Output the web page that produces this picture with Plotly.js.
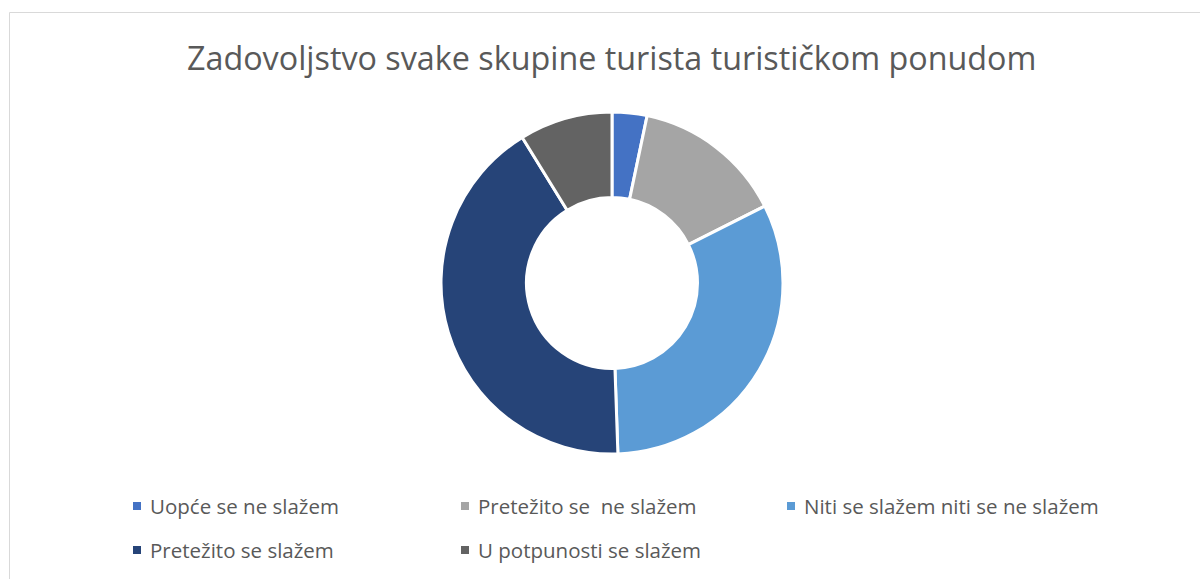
<!DOCTYPE html>
<html>
<head>
<meta charset="utf-8">
<script src="https://cdn.plot.ly/plotly-3.0.1.min.js"></script>
<style>html,body{margin:0;padding:0;background:#fff;}#chart{width:1200px;height:579px;}</style>
</head>
<body>
<div id="chart"></div>
<script>
const chartTitle = "Zadovoljstvo svake skupine turista turističkom ponudom";
const categories = [
  "Uopće se ne slažem",
  "Pretežito se  ne slažem",
  "Niti se slažem niti se ne slažem",
  "Pretežito se slažem",
  "U potpunosti se slažem"
];
const values = [3, 13, 29, 38, 8];
const colors = ["#4472C4", "#A5A5A5", "#5B9BD5", "#264478", "#636363"];

const W = 1200, H = 579;
const FONT = "Open Sans, Noto Sans, sans-serif";
const TXT = "#595959";

// legend layout (pixels)
const legCols = [133, 461, 787];
const legRows = [506, 550];

const annotations = [{
  text: chartTitle, xref: "paper", yref: "paper",
  x: 611 / W, y: 1 - 57 / H, xanchor: "center", yanchor: "middle",
  showarrow: false, font: {family: FONT, size: 32.3, color: TXT}
}];
const shapes = [
  {type: "line", xref: "paper", yref: "paper", x0: 9.5 / W, x1: 1, y0: 1 - 12.5 / H, y1: 1 - 12.5 / H, line: {color: "#D9D9D9", width: 1}},
  {type: "line", xref: "paper", yref: "paper", x0: 9.5 / W, x1: 9.5 / W, y0: 1 - 12.5 / H, y1: 0, line: {color: "#D9D9D9", width: 1}}
];
categories.forEach((c, i) => {
  const px = legCols[i % 3], py = legRows[Math.floor(i / 3)];
  shapes.push({type: "rect", xref: "paper", yref: "paper",
    x0: px / W, x1: (px + 8) / W, y0: 1 - (py - 4) / H, y1: 1 - (py + 4) / H,
    fillcolor: colors[i], line: {width: 0}});
  annotations.push({text: c, xref: "paper", yref: "paper",
    x: (px + 15) / W, y: 1 - py / H, xanchor: "left", yanchor: "middle",
    showarrow: false, font: {family: FONT, size: 20.5, color: TXT}});
});

const cx = 612, cy = 283, R = 171;
const data = [{
  type: "pie",
  labels: categories,
  values: values,
  hole: 0.5,
  sort: false,
  direction: "clockwise",
  rotation: 0,
  textinfo: "none",
  hoverinfo: "label+value+percent",
  marker: {colors: colors, line: {color: "#FFFFFF", width: 3}},
  domain: {x: [(cx - R) / W, (cx + R) / W], y: [1 - (cy + R) / H, 1 - (cy - R) / H]},
  showlegend: false
}];

const layout = {
  width: W, height: H,
  margin: {l: 0, r: 0, t: 0, b: 0},
  paper_bgcolor: "#FFFFFF",
  showlegend: false,
  annotations: annotations,
  shapes: shapes
};
Plotly.newPlot("chart", data, layout, {displayModeBar: false, staticPlot: true});
</script>
</body>
</html>
